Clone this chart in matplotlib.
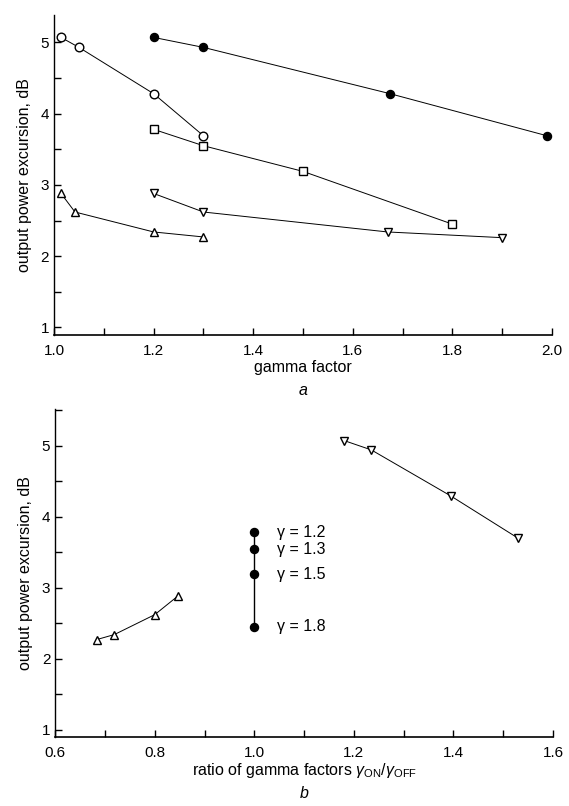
import numpy as np
import matplotlib
matplotlib.use('Agg')
import matplotlib.pyplot as plt
from matplotlib.ticker import MultipleLocator

plt.rcParams['font.family'] = ['Liberation Sans', 'DejaVu Sans']
plt.rcParams['mathtext.fontset'] = 'custom'
plt.rcParams['mathtext.rm'] = 'Liberation Sans'
plt.rcParams['mathtext.it'] = 'Liberation Sans:italic'

# panel a: output power excursion vs gamma factor
filled_x = [1.2, 1.3, 1.675, 1.99]
filled_y = [5.07, 4.93, 4.28, 3.69]
circle_x = [1.014, 1.05, 1.2, 1.3]
circle_y = [5.07, 4.93, 4.28, 3.69]
square_x = [1.2, 1.3, 1.5, 1.8]
square_y = [3.78, 3.55, 3.19, 2.45]
tridown_x = [1.2, 1.3, 1.67, 1.9]
tridown_y = [2.88, 2.62, 2.34, 2.26]
triup_x = [1.014, 1.042, 1.2, 1.3]
triup_y = [2.88, 2.62, 2.34, 2.27]

# panel b: vs ratio of gamma factors
b_up_x = [0.684, 0.719, 0.8, 0.846]
b_up_y = [2.27, 2.34, 2.62, 2.88]
b_down_x = [1.181, 1.235, 1.395, 1.529]
b_down_y = [5.07, 4.94, 4.29, 3.70]
b_filled_x = [1.0, 1.0, 1.0, 1.0]
b_filled_y = [3.78, 3.54, 3.19, 2.45]
b_labels = ['γ = 1.2', 'γ = 1.3', 'γ = 1.5', 'γ = 1.8']

fig = plt.figure(figsize=(5.69, 8.06), dpi=100)
ax1 = fig.add_axes([0.095, 0.584, 0.875, 0.397])
ax2 = fig.add_axes([0.097, 0.085, 0.875, 0.407])

lw = 0.7
kw_open = dict(color='black', lw=lw, mfc='white', mec='black', mew=1.0)

ax1.plot(filled_x, filled_y, marker='o', ms=5.8, color='black', lw=lw)
ax1.plot(circle_x, circle_y, marker='o', ms=6.2, **kw_open)
ax1.plot(square_x, square_y, marker='s', ms=5.2, **kw_open)
ax1.plot(tridown_x, tridown_y, marker='v', ms=6, **kw_open)
ax1.plot(triup_x, triup_y, marker='^', ms=6, **kw_open)

ax2.plot(b_up_x, b_up_y, marker='^', ms=6, **kw_open)
ax2.plot(b_down_x, b_down_y, marker='v', ms=6, **kw_open)
ax2.plot(b_filled_x, b_filled_y, marker='o', ms=5.8, color='black', lw=1.0)
for yv, lab in zip(b_filled_y, b_labels):
    ax2.text(1.045, yv, lab, fontsize=11.5, va='center', ha='left')

for ax in (ax1, ax2):
    for s in ('top', 'right'):
        ax.spines[s].set_visible(False)
    ax.spines['left'].set_linewidth(1.0)
    ax.spines['bottom'].set_linewidth(1.2)
    ax.xaxis.set_major_locator(MultipleLocator(0.2))
    ax.xaxis.set_minor_locator(MultipleLocator(0.1))
    ax.yaxis.set_major_locator(MultipleLocator(1))
    ax.yaxis.set_minor_locator(MultipleLocator(0.5))
    ax.tick_params(which='both', direction='in', length=5, width=1.0, labelsize=11)
    ax.tick_params(axis='x', which='both', pad=6)
    ax.set_ylabel('output power excursion, dB', fontsize=11.5, labelpad=6)

ax1.set_xlim(1.0, 2.0)
ax1.set_ylim(0.89, 5.38)
ax1.xaxis.set_major_formatter(plt.FormatStrFormatter('%.1f'))
ax1.set_xlabel('gamma factor', fontsize=11.5, labelpad=2)
ax1.text(0.5, -0.172, 'a', transform=ax1.transAxes, ha='center', va='center',
         fontsize=11.5, style='italic')

ax2.set_xlim(0.6, 1.6)
ax2.set_ylim(0.89, 5.51)
ax2.xaxis.set_major_formatter(plt.FormatStrFormatter('%.1f'))
ax2.set_xlabel(r'ratio of gamma factors $\gamma_{\rm ON}/\gamma_{\rm OFF}$',
               fontsize=11.5, labelpad=1)
ax2.text(0.5, -0.17, 'b', transform=ax2.transAxes, ha='center', va='center',
         fontsize=11.5, style='italic')

fig.savefig('out.png', dpi=100)
